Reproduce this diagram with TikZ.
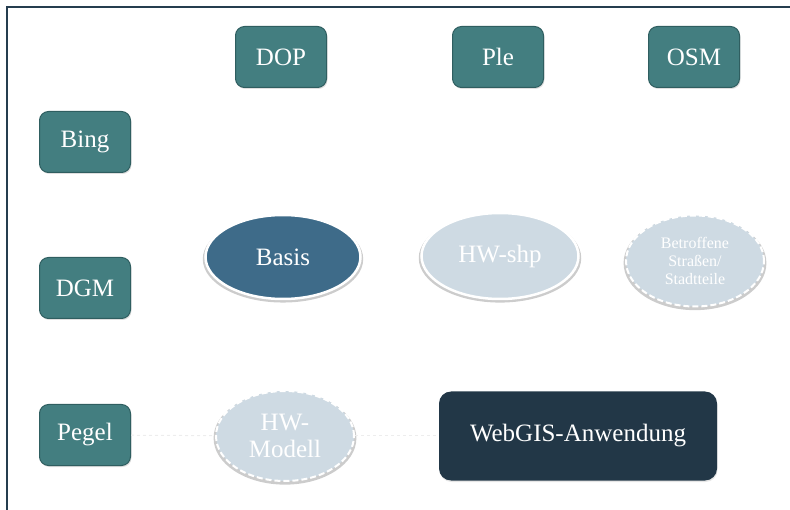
\documentclass[tikz,border=0pt]{standalone}
\usepackage{fontspec}
\setmainfont{Liberation Serif}
\usetikzlibrary{shapes.geometric,shadows}
\definecolor{rahmenfarbe}{HTML}{253D4F}
\definecolor{quellfarbe}{HTML}{437E80}
\definecolor{quellrand}{HTML}{2F5E60}
\definecolor{basisfarbe}{HTML}{3E6B89}
\definecolor{hellfarbe}{HTML}{CEDAE3}
\definecolor{webfarbe}{HTML}{223747}
\newcommand{\grosstext}[0]{\fontsize{25}{27}\selectfont}
\newcommand{\kleintext}[0]{\fontsize{16}{18}\selectfont}

\begin{document}
\begin{tikzpicture}[x=1pt, y=-1pt]
  \tikzset{quellbox/.style={draw=quellrand, line width=1pt, fill=quellfarbe,
      rounded corners=9pt, minimum width=91pt, minimum height=61pt,
      text=white, font=\grosstext, drop shadow={opacity=0.25, shadow xshift=1pt, shadow yshift=-1.5pt}},
    datenoval/.style={ellipse, draw=white, line width=2.5pt, inner sep=0pt,
      text=white, font=\grosstext, align=center,
      drop shadow={opacity=0.4, shadow xshift=0pt, shadow yshift=-2pt, shadow scale=1.035}},
    planoval/.style={datenoval, dashed, line width=2pt, dash pattern=on 6pt off 3pt},
    blass/.style={draw=black!7, line width=1pt, dash pattern=on 3pt off 3pt}}
  \useasboundingbox (0,0) rectangle (790,510);
  \draw[rahmenfarbe, line width=2.2pt] (790,7) -- (7,7) -- (7,510);

  \node[quellbox] (dop) at (281,57) {DOP};
  \node[quellbox] (ple) at (498,57) {Ple};
  \node[quellbox] (osm) at (694,57) {OSM};
  \node[quellbox] (bing) at (85,142) {Bing};
  \node[quellbox] (dgm) at (85,288) {DGM};
  \node[quellbox] (pegel) at (85,435) {Pegel};

  \node[datenoval, fill=basisfarbe, minimum width=155pt, minimum height=84pt] (basis) at (283,257) {Basis};
  \node[datenoval, fill=hellfarbe, minimum width=157pt, minimum height=86pt] (hwshp) at (500,256) {HW-shp};
  \node[planoval, fill=hellfarbe, minimum width=138pt, minimum height=91pt, font=\kleintext] (strassen) at (695,261)
    {Betroffene\\Straßen/\\Stadtteile};
  \node[planoval, fill=hellfarbe, minimum width=138pt, minimum height=90pt] (modell) at (285,436)
    {HW-\\Modell};
  \node[fill=webfarbe, rounded corners=12pt, minimum width=278pt, minimum height=89pt,
    text=white, font=\grosstext, drop shadow={opacity=0.2, shadow xshift=0.5pt, shadow yshift=-1.5pt}] (webgis) at (578,436) {WebGIS-Anwendung};

  \draw[blass] (pegel) -- (modell);
  \draw[blass] (modell) -- (webgis);
\end{tikzpicture}
\end{document}
